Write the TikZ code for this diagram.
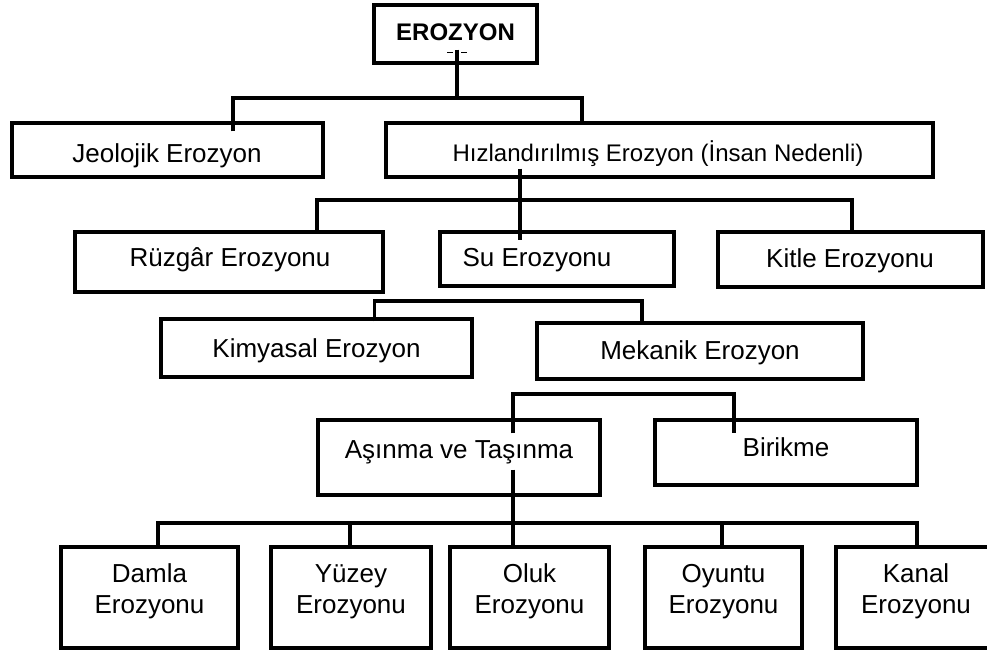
\documentclass[tikz,border=0pt]{standalone}
\usepackage{fontspec}
\setmainfont{Liberation Sans}
\usetikzlibrary{fit}
\tikzset{
  box/.style={draw, line width=3.2pt, rectangle, inner sep=0pt},
  conn/.style={line width=3.2pt, line cap=butt, line join=miter},
  lbl/.style={inner sep=0pt, align=center, font=\fontsize{26}{31}\selectfont},
  small/.style={font=\fontsize{24}{28}\selectfont},
  title/.style={font=\bfseries\fontsize{24}{28}\selectfont},
}
\begin{document}
\begin{tikzpicture}[x=1pt, y=-1pt]
\useasboundingbox (0,0) rectangle (987,651);
\clip (0,0) rectangle (987,651);

% ---- boxes ----
\node[box, fit={(374,5) (537,63)}]      (ero) {};
\node[box, fit={(12,123) (323,177)}]    (jeo) {};
\node[box, fit={(386,123) (933,177)}]   (hiz) {};
\node[box, fit={(75,232) (383,292)}]    (ruz) {};
\node[box, fit={(440,232) (674,286)}]   (su)  {};
\node[box, fit={(718,232) (983,287)}]   (kit) {};
\node[box, fit={(161,319) (472,377)}]   (kim) {};
\node[box, fit={(537,323) (863,379)}]   (mek) {};
\node[box, fit={(318,420) (600,495)}]   (asi) {};
\node[box, fit={(655,420) (917,485)}]   (bir) {};
\node[box, fit={(61,547) (238,648)}]    (dam) {};
\node[box, fit={(271,547) (431,648)}]   (yuz) {};
\node[box, fit={(450,547) (609,648)}]   (olu) {};
\node[box, fit={(645,547) (802,648)}]   (oyu) {};
\node[box, fit={(836,547) (996,648)}]   (kan) {};

% ---- labels ----
\node[lbl, title, anchor=base] (ero-t) at (455.5,40) {EROZYON};
\node[lbl, anchor=base] (jeo-t) at (167,162) {Jeolojik Erozyon};
\node[lbl, small, anchor=base] (hiz-t) at (658,161) {Hızlandırılmış Erozyon (İnsan Nedenli)};
\node[lbl, anchor=base] (ruz-t) at (230,266) {Rüzgâr Erozyonu};
\node[lbl, anchor=base] (su-t)  at (537,266) {Su Erozyonu};
\node[lbl, anchor=base] (kit-t) at (850,267) {Kitle Erozyonu};
\node[lbl, anchor=base] (kim-t) at (316.5,357) {Kimyasal Erozyon};
\node[lbl, anchor=base] (mek-t) at (700,359) {Mekanik Erozyon};
\node[lbl, anchor=base] (asi-t) at (459,458) {Aşınma ve Taşınma};
\node[lbl, anchor=base] (bir-t) at (786,456) {Birikme};
\node[lbl] (dam-t) at (149.5,592) {Damla\strut\\Erozyonu\strut};
\node[lbl] (yuz-t) at (351,592) {Yüzey\strut\\Erozyonu\strut};
\node[lbl] (olu-t) at (529.5,592) {Oluk\strut\\Erozyonu\strut};
\node[lbl] (oyu-t) at (723.5,592) {Oyuntu\strut\\Erozyonu\strut};
\node[lbl] (kan-t) at (916,592) {Kanal\strut\\Erozyonu\strut};

% ---- bus junctions ----
\coordinate (b1)  at (457,98);
\coordinate (b1l) at (233,98);
\coordinate (b1r) at (582,98);
\coordinate (b2)  at (520,200);
\coordinate (b2l) at (317,200);
\coordinate (b2r) at (852,200);
\coordinate (b3l) at (374.5,301);
\coordinate (b3r) at (642,301);
\coordinate (b4l) at (513,394);
\coordinate (b4r) at (734,394);
\coordinate (b5)  at (513,523);
\coordinate (b5a) at (158,523);
\coordinate (b5b) at (350,523);
\coordinate (b5d) at (722,523);
\coordinate (b5e) at (917,523);

% ---- connectors ----
% EROZYON -> first level
\draw[conn] ([yshift=15pt]ero.south -| b1) -- (b1);
\draw[line width=1.4pt] ([xshift=-10pt,yshift=12pt]ero.south -| b1) -- ([xshift=-4pt,yshift=12pt]ero.south -| b1)
                        ([xshift=4pt,yshift=12pt]ero.south -| b1) -- ([xshift=10pt,yshift=12pt]ero.south -| b1);
\draw[conn] ([yshift=-10pt]jeo.north -| b1l) -- (b1l) -- (b1r) -- (hiz.north -| b1r);

% Hizlandirilmis -> water, wind, mass
\draw[conn] ([yshift=10pt]hiz.south -| b2) -- ([yshift=-10pt]su.north -| b2);
\draw[conn] ([yshift=-3pt]ruz.north -| b2l) -- (b2l) -- (b2r) -- ([yshift=-1pt]kit.north -| b2r);

% Su -> chemical / mechanical
\draw[conn] ([yshift=-4pt]kim.north -| b3l) -- (b3l) -- (b3r) -- (mek.north -| b3r);

% Mekanik -> abrasion / deposition
\draw[conn] ([yshift=-15pt]asi.north -| b4l) -- (b4l) -- (b4r) -- ([yshift=-15pt]bir.north -| b4r);

% Asinma ve Tasinma -> five kinds
\draw[conn] ([yshift=27pt]asi.south -| b5) -- (olu.north -| b5);
\draw[conn] (dam.north -| b5a) -- (b5a) -- (b5e) -- (kan.north -| b5e);
\draw[conn] (b5b) -- (yuz.north -| b5b);
\draw[conn] (b5d) -- (oyu.north -| b5d);
\end{tikzpicture}
\end{document}
